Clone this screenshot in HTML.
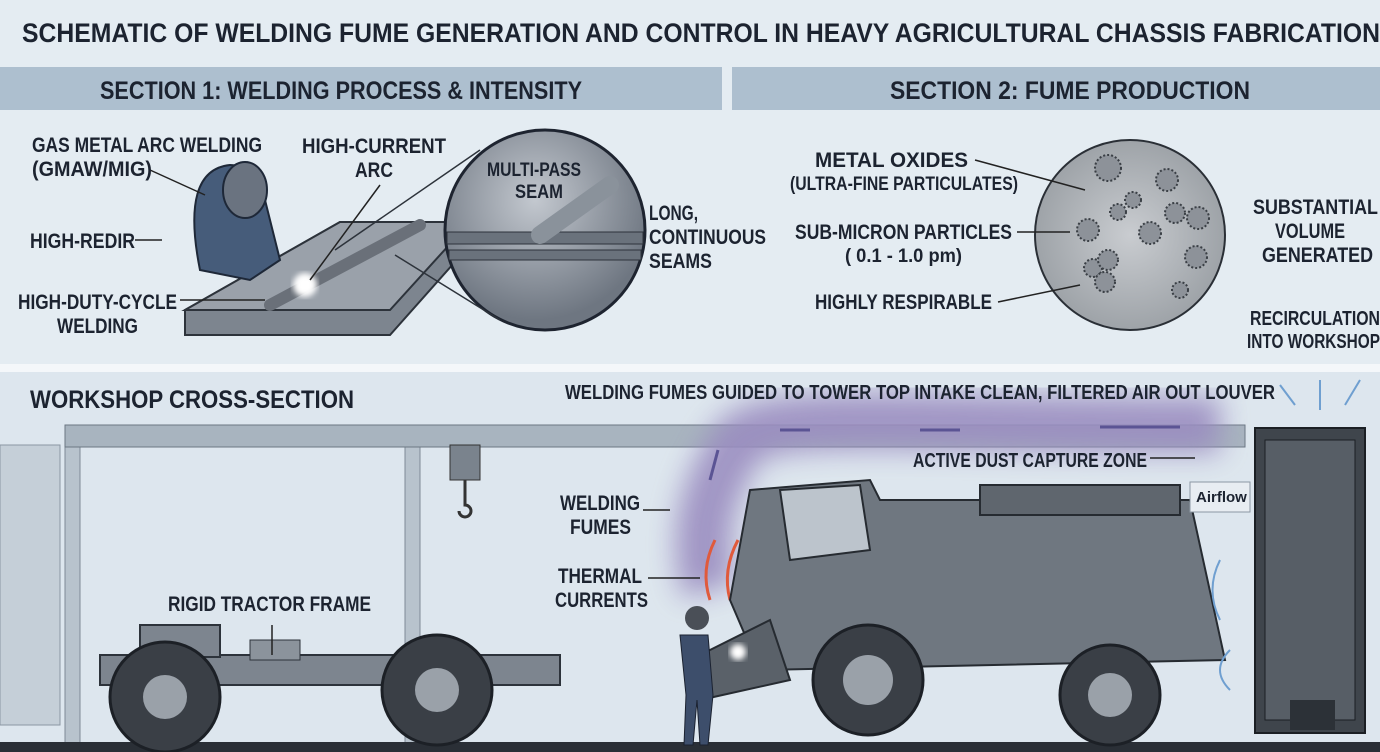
<!DOCTYPE html>
<html><head><meta charset="utf-8"><style>
html,body{margin:0;padding:0;background:#e4ecf2;}
svg{display:block;}
text{font-family:"Liberation Sans",sans-serif;font-weight:bold;fill:#1c2330;}
</style></head><body>
<svg width="1380" height="752" viewBox="0 0 1380 752" xmlns="http://www.w3.org/2000/svg">
<defs>
<filter id="blur" x="-20%" y="-20%" width="140%" height="140%"><feGaussianBlur stdDeviation="14"/></filter>
<filter id="b3"><feGaussianBlur stdDeviation="3"/></filter>
<radialGradient id="pg" cx="0.5" cy="0.5" r="0.5"><stop offset="0" stop-color="#c9ccd0"/><stop offset="1" stop-color="#9ea3a8"/></radialGradient>
<radialGradient id="mg" cx="0.45" cy="0.35" r="0.6"><stop offset="0" stop-color="#c3c8cf"/><stop offset="1" stop-color="#6e7681"/></radialGradient>
</defs>
<rect width="1380" height="752" fill="#e4ecf2"/>
<text x="22" y="42" font-size="27" textLength="1358" lengthAdjust="spacingAndGlyphs">SCHEMATIC OF WELDING FUME GENERATION AND CONTROL IN HEAVY AGRICULTURAL CHASSIS FABRICATION</text>
<rect x="0" y="67" width="722" height="43" fill="#adbfcf"/>
<rect x="732" y="67" width="648" height="43" fill="#adbfcf"/>
<text x="100" y="99" font-size="25" textLength="482" lengthAdjust="spacingAndGlyphs">SECTION 1: WELDING PROCESS &amp; INTENSITY</text>
<text x="890" y="99" font-size="25" textLength="360" lengthAdjust="spacingAndGlyphs">SECTION 2: FUME PRODUCTION</text>
<!-- section 1 drawing -->
<polygon points="185,310 340,222 470,222 470,245 390,335 185,335" fill="#7d858f" stroke="#2d333b" stroke-width="2"/>
<polygon points="185,310 340,222 470,222 390,310" fill="#9aa1aa" stroke="#2d333b" stroke-width="2"/>
<line x1="270" y1="305" x2="420" y2="225" stroke="#6a7079" stroke-width="12" stroke-linecap="round"/>
<circle cx="305" cy="285" r="12" fill="#fff" filter="url(#b3)"/>
<path d="M200,270 Q180,170 230,165 Q255,165 265,200 L280,260 L250,280 Z" fill="#465c7a" stroke="#1e2838" stroke-width="2"/>
<ellipse cx="245" cy="190" rx="22" ry="28" fill="#6a7380" stroke="#1e2838" stroke-width="2"/>
<circle cx="545" cy="230" r="100" fill="url(#mg)" stroke="#1e2430" stroke-width="3"/>
<rect x="447" y="232" width="196" height="12" fill="#6a727c" stroke="#2d333b"/>
<rect x="449" y="250" width="192" height="10" fill="#6a727c" stroke="#2d333b"/>
<line x1="540" y1="235" x2="610" y2="185" stroke="#8a929b" stroke-width="18" stroke-linecap="round"/>
<line x1="335" y1="250" x2="480" y2="150" stroke="#2d333b" stroke-width="1.5"/>
<line x1="395" y1="255" x2="500" y2="320" stroke="#2d333b" stroke-width="1.5"/>
<g stroke="#222" stroke-width="1.5"><line x1="150" y1="170" x2="205" y2="195"/><line x1="135" y1="240" x2="162" y2="240"/><line x1="180" y1="300" x2="265" y2="300"/><line x1="380" y1="185" x2="310" y2="280"/></g>
<text x="32" y="152" font-size="21" textLength="230" lengthAdjust="spacingAndGlyphs">GAS METAL ARC WELDING</text>
<text x="32" y="176" font-size="21" textLength="120" lengthAdjust="spacingAndGlyphs">(GMAW/MIG)</text>
<text x="302" y="153" font-size="21" textLength="144" lengthAdjust="spacingAndGlyphs">HIGH-CURRENT</text>
<text x="355" y="177" font-size="21" textLength="38" lengthAdjust="spacingAndGlyphs">ARC</text>
<text x="487" y="176" font-size="19" textLength="94" lengthAdjust="spacingAndGlyphs">MULTI-PASS</text>
<text x="515" y="198" font-size="19" textLength="48" lengthAdjust="spacingAndGlyphs">SEAM</text>
<text x="30" y="248" font-size="21" textLength="105" lengthAdjust="spacingAndGlyphs">HIGH-REDIR</text>
<text x="18" y="309" font-size="21" textLength="159" lengthAdjust="spacingAndGlyphs">HIGH-DUTY-CYCLE</text>
<text x="57" y="333" font-size="21" textLength="81" lengthAdjust="spacingAndGlyphs">WELDING</text>
<text x="649" y="220" font-size="21" textLength="49" lengthAdjust="spacingAndGlyphs">LONG,</text>
<text x="649" y="244" font-size="21" textLength="117" lengthAdjust="spacingAndGlyphs">CONTINUOUS</text>
<text x="649" y="268" font-size="21" textLength="63" lengthAdjust="spacingAndGlyphs">SEAMS</text>
<!-- section 2 -->
<circle cx="1130" cy="235" r="95" fill="url(#pg)" stroke="#2a2f36" stroke-width="2"/>
<g fill="#8d9299" stroke="#3a3f45" stroke-width="2" stroke-dasharray="2 2">
<circle cx="1108" cy="168" r="13"/><circle cx="1167" cy="180" r="11"/><circle cx="1133" cy="200" r="8"/><circle cx="1118" cy="212" r="8"/>
<circle cx="1088" cy="230" r="11"/><circle cx="1150" cy="233" r="11"/><circle cx="1175" cy="213" r="10"/><circle cx="1198" cy="218" r="11"/>
<circle cx="1196" cy="257" r="11"/><circle cx="1093" cy="268" r="9"/><circle cx="1108" cy="260" r="10"/><circle cx="1105" cy="282" r="10"/><circle cx="1180" cy="290" r="8"/></g>
<g stroke="#222" stroke-width="1.5"><line x1="975" y1="160" x2="1085" y2="190"/><line x1="1017" y1="232" x2="1070" y2="232"/><line x1="998" y1="302" x2="1080" y2="285"/></g>
<text x="815" y="167" font-size="21" textLength="153" lengthAdjust="spacingAndGlyphs">METAL OXIDES</text>
<text x="790" y="190" font-size="19" textLength="228" lengthAdjust="spacingAndGlyphs">(ULTRA-FINE PARTICULATES)</text>
<text x="795" y="239" font-size="21" textLength="217" lengthAdjust="spacingAndGlyphs">SUB-MICRON PARTICLES</text>
<text x="845" y="262" font-size="19" textLength="117" lengthAdjust="spacingAndGlyphs">( 0.1 - 1.0 pm)</text>
<text x="815" y="309" font-size="21" textLength="177" lengthAdjust="spacingAndGlyphs">HIGHLY RESPIRABLE</text>
<text x="1253" y="214" font-size="21" textLength="125" lengthAdjust="spacingAndGlyphs">SUBSTANTIAL</text>
<text x="1275" y="238" font-size="21" textLength="70" lengthAdjust="spacingAndGlyphs">VOLUME</text>
<text x="1262" y="262" font-size="21" textLength="111" lengthAdjust="spacingAndGlyphs">GENERATED</text>
<text x="1250" y="325" font-size="20" textLength="130" lengthAdjust="spacingAndGlyphs">RECIRCULATION</text>
<text x="1247" y="348" font-size="20" textLength="133" lengthAdjust="spacingAndGlyphs">INTO WORKSHOP</text>
<rect x="0" y="364" width="1380" height="8" fill="#f4f7fa"/>
<rect x="0" y="372" width="1380" height="380" fill="#dde6ee"/>
<text x="30" y="408" font-size="25" textLength="324" lengthAdjust="spacingAndGlyphs">WORKSHOP CROSS-SECTION</text>
<rect x="0" y="445" width="60" height="280" fill="#c5cfd8" stroke="#8b97a3"/>
<rect x="65" y="425" width="15" height="320" fill="#b8c3cd" stroke="#7e8a96"/>
<rect x="405" y="425" width="15" height="320" fill="#b8c3cd" stroke="#7e8a96"/>
<rect x="65" y="425" width="1180" height="22" fill="#a8b4bf" stroke="#6b7783"/>
<rect x="450" y="445" width="30" height="35" fill="#7a838d" stroke="#333"/>
<path d="M465,480 v25 a6,6 0 1 1 -6,6" fill="none" stroke="#333" stroke-width="3"/>
<rect x="0" y="742" width="1380" height="10" fill="#2a2f36"/>
<rect x="100" y="655" width="460" height="30" fill="#7d858f" stroke="#2d333b" stroke-width="2"/>
<rect x="140" y="625" width="80" height="32" fill="#7d858f" stroke="#2d333b" stroke-width="2"/>
<rect x="250" y="640" width="50" height="20" fill="#8b939c" stroke="#2d333b"/>
<circle cx="165" cy="697" r="55" fill="#3a3f46" stroke="#1c2026" stroke-width="3"/>
<circle cx="165" cy="697" r="22" fill="#9aa1a9"/>
<circle cx="437" cy="690" r="55" fill="#3a3f46" stroke="#1c2026" stroke-width="3"/>
<circle cx="437" cy="690" r="22" fill="#9aa1a9"/>
<line x1="272" y1="625" x2="272" y2="655" stroke="#222" stroke-width="1.5"/>
<text x="168" y="611" font-size="21" textLength="203" lengthAdjust="spacingAndGlyphs">RIGID TRACTOR FRAME</text>
<path d="M710,590 C690,520 720,470 740,440 C780,410 900,425 1220,425" fill="none" stroke="#9a8cc0" stroke-width="55" filter="url(#blur)" opacity="0.9"/>
<g stroke="#5b5494" stroke-width="3" fill="none"><path d="M710,480 l8,-30"/><path d="M780,430 h30"/><path d="M920,430 h40"/><path d="M1100,427 h80"/></g>
<g stroke="#e05a3c" stroke-width="3" fill="none"><path d="M710,600 q-10,-30 5,-60"/><path d="M730,600 q-8,-30 8,-60"/><path d="M750,600 q-5,-30 10,-55"/></g>
<polygon points="750,490 870,480 880,500 1190,500 1225,660 760,670 730,600" fill="#6f7780" stroke="#262b31" stroke-width="2"/>
<polygon points="780,490 860,485 870,550 790,560" fill="#bcc4cc" stroke="#262b31" stroke-width="2"/>
<rect x="980" y="485" width="200" height="30" fill="#5f666e" stroke="#262b31" stroke-width="2"/>
<polygon points="690,660 770,620 790,680 700,700" fill="#5a6169" stroke="#262b31" stroke-width="2"/>
<circle cx="868" cy="680" r="55" fill="#3a3f46" stroke="#1c2026" stroke-width="3"/>
<circle cx="868" cy="680" r="25" fill="#9aa1a9"/>
<circle cx="1110" cy="695" r="50" fill="#3a3f46" stroke="#1c2026" stroke-width="3"/>
<circle cx="1110" cy="695" r="22" fill="#9aa1a9"/>
<circle cx="697" cy="618" r="12" fill="#4a4f57"/>
<path d="M680,635 h28 l5,60 l-5,50 h-8 l-3,-45 l-4,45 h-9 l2,-50 z" fill="#3d4e6b" stroke="#1b2230"/>
<circle cx="738" cy="652" r="8" fill="#fff" filter="url(#b3)"/>
<g stroke="#222" stroke-width="1.5"><line x1="643" y1="510" x2="670" y2="510"/><line x1="648" y1="578" x2="700" y2="578"/><line x1="1150" y1="458" x2="1195" y2="458"/></g>
<text x="560" y="510" font-size="21" textLength="80" lengthAdjust="spacingAndGlyphs">WELDING</text>
<text x="570" y="534" font-size="21" textLength="61" lengthAdjust="spacingAndGlyphs">FUMES</text>
<text x="558" y="583" font-size="21" textLength="84" lengthAdjust="spacingAndGlyphs">THERMAL</text>
<text x="555" y="607" font-size="21" textLength="93" lengthAdjust="spacingAndGlyphs">CURRENTS</text>
<text x="565" y="399" font-size="20" textLength="710" lengthAdjust="spacingAndGlyphs">WELDING FUMES GUIDED TO TOWER TOP INTAKE  CLEAN, FILTERED AIR OUT LOUVER</text>
<text x="913" y="467" font-size="20" textLength="234" lengthAdjust="spacingAndGlyphs">ACTIVE DUST CAPTURE ZONE</text>
<rect x="1255" y="428" width="110" height="305" fill="#3f454c" stroke="#1b1f24" stroke-width="2"/>
<rect x="1265" y="440" width="90" height="280" fill="#575e66" stroke="#1b1f24"/>
<rect x="1290" y="700" width="45" height="30" fill="#2c3137"/>
<rect x="1190" y="482" width="60" height="30" fill="#e8edf2" stroke="#8c98a4"/>
<text x="1196" y="502" font-size="15" font-weight="normal">Airflow</text>
<g stroke="#6f9fd0" stroke-width="2" fill="none"><path d="M1220,560 q-15,30 0,60"/><path d="M1230,650 q-20,20 0,40"/><path d="M1320,410 v-30"/><path d="M1345,405 l15,-25"/><path d="M1295,405 l-15,-20"/></g>
</svg>
</body></html>
